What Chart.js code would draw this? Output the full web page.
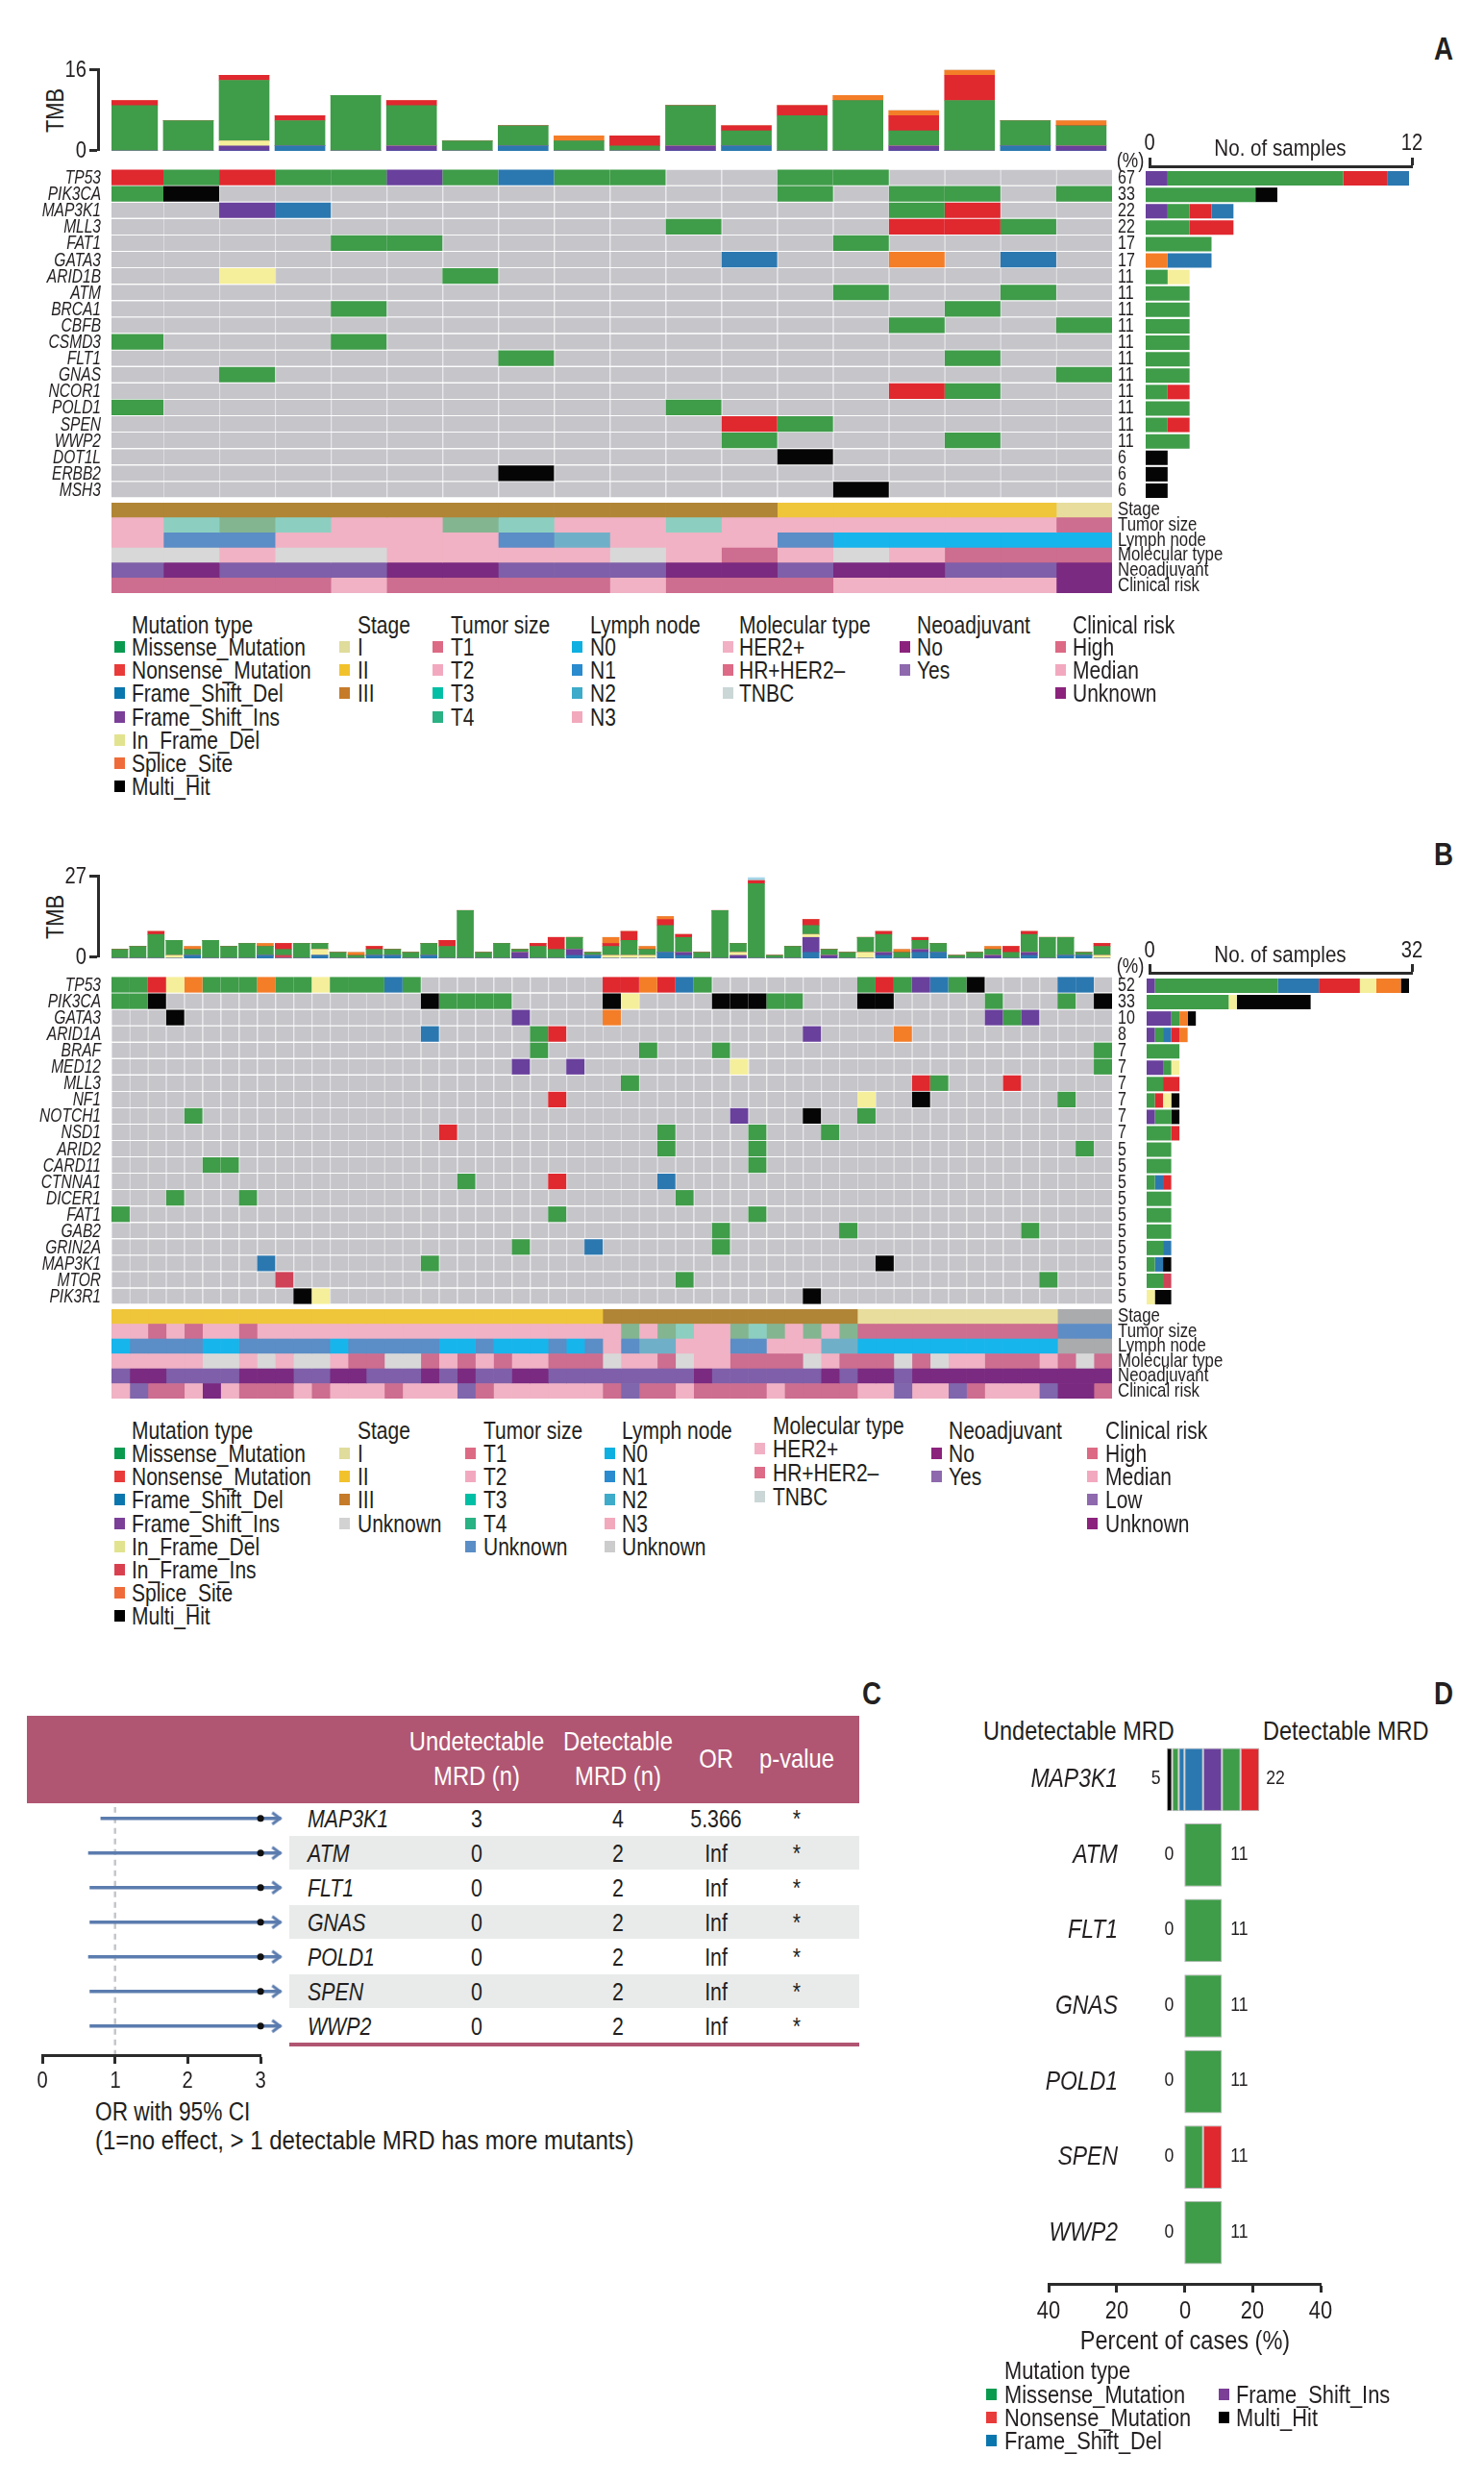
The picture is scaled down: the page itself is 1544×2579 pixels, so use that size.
<!DOCTYPE html>
<html>
<head>
<meta charset="utf-8">
<title>Mutation landscape</title>
<script src="https://cdn.jsdelivr.net/npm/chart.js@4"></script>
<style>
  html, body { margin: 0; background: #fff; }
  #page { position: relative; width: 1544px; height: 2579px; overflow: hidden; background: #fff; }
  #page canvas { position: absolute; }
  .txt { position: absolute; white-space: nowrap; color: #231f20; line-height: 1; }
</style>
</head>
<body>
<div id="page"></div>
<script>
// ─── DATA ────────────────────────────────────────────────

// panel A: matrix cells are "column + code", codes are in mutColors below
const genesA = ['TP53', 'PIK3CA', 'MAP3K1', 'MLL3', 'FAT1', 'GATA3', 'ARID1B', 'ATM', 'BRCA1', 'CBFB',
  'CSMD3', 'FLT1', 'GNAS', 'NCOR1', 'POLD1', 'SPEN', 'WWP2', 'DOT1L', 'ERBB2', 'MSH3'];
const pctA = ['67', '33', '22', '22', '17', '17', '11', '11', '11', '11', '11', '11', '11', '11', '11', '11', '11', '6', '6', '6'];
const cellsA = [
  '0N 1M 2N 3M 4M 5I 6M 7D 8M 9M 12M 13M',
  '0M 1H 12M 14M 15M 17M',
  '2I 3D 14M 15N',
  '10M 14N 15N 16M',
  '4M 5M 13M',
  '11D 14S 16D',
  '2E 6M',
  '13M 16M',
  '4M 15M',
  '14M 17M',
  '0M 4M',
  '7M 15M',
  '2M 17M',
  '14N 15M',
  '0M 10M',
  '11N 12M',
  '11M 15M',
  '12H',
  '7H',
  '13H'
];
const tmbA = ['M9 N1', 'M6', 'I1 E1 M12 N1', 'D1 M5 N1', 'M11', 'I1 M8 N1', 'M2', 'D1 M4', 'M2 S1', 'M1 N2',
  'I1 M8', 'D1 M3 N1', 'M7 N2', 'M10 S1', 'I1 M3 N3 S1', 'M10 N5 S1', 'D1 M5', 'I1 M4 S1'];
const sideOrderA = ['S', 'I', 'M', 'N', 'D', 'E', 'H'];

const stageA = '3:12 2:5 1:1';
const tumorA = '2:1 3:1 4:1 3:1 2:2 4:1 3:1 2:2 3:1 2:6 1:1';
const lymphA = '3:1 1:2 3:4 1:1 2:1 3:3 1:1 0:5';
const molA = 'T:2 H:1 T:2 H:4 T:1 H:1 R:1 H:1 T:1 H:1 R:3';
const neoA = 'Y:1 N:1 Y:3 N:2 Y:3 N:2 Y:1 N:2 Y:2 N:1';
const riskA = 'H:4 M:1 H:4 M:1 H:3 M:4 U:1';

// panel B
const genesB = ['TP53', 'PIK3CA', 'GATA3', 'ARID1A', 'BRAF', 'MED12', 'MLL3', 'NF1', 'NOTCH1', 'NSD1',
  'ARID2', 'CARD11', 'CTNNA1', 'DICER1', 'FAT1', 'GAB2', 'GRIN2A', 'MAP3K1', 'MTOR', 'PIK3R1'];
const pctB = ['52', '33', '10', '8', '7', '7', '7', '7', '7', '7', '5', '5', '5', '5', '5', '5', '5', '5', '5', '5'];
const cellsB = [
  '0M 1M 2N 3E 4S 5M 6M 7M 8S 9M 10M 11E 12M 13M 14M 15D 16M 27N 28N 29S 30N 31D 32M 41M 42N 43M 44I 45D 46M 47H 52D 53D',
  '0M 1M 2H 17H 18M 19M 20M 21M 27H 28E 33H 34H 35H 36M 37M 41H 42H 48M 52M 54H',
  '3H 22I 27S 48I 49M 50I',
  '17D 23M 24N 38I 43S',
  '23M 29M 33M 54M',
  '22I 25I 34E 54M',
  '28M 44N 45M 49N',
  '24N 41E 44H 52M',
  '4M 34I 38H 41M',
  '18N 30M 35M 39M',
  '30M 35M 53M',
  '5M 6M 35M',
  '19M 24N 30D',
  '3M 7M 31M',
  '0M 24M 35M',
  '33M 40M 50M',
  '22M 26D 33M',
  '8D 17M 42H',
  '9F 31M 51M',
  '10H 11E 38H'
];
const tmbB = ['M3', 'M4', 'M8 N1', 'E1 M5', 'D1 M2 S1', 'M6', 'M4', 'M5', 'D1 M3 S1', 'F1 M2 N2',
  'M5', 'D1 E2 M2', 'M2', 'M1 S1', 'D1 M2 N1', 'D1 M2', 'M2', 'D1 M4', 'M4 N2', 'M16',
  'M2', 'M5', 'I2 M1', 'M4 N1', 'M3 N4', 'D1 I2 M4', 'D1 M1', 'E1 M3 N1 S2', 'E1 M5 N3', 'E1 M2 S1',
  'D2 M9 N2 S1', 'D1 I1 M5 N1', 'M2', 'M16', 'I1 E1 M3', 'M25 N1 O1', 'M1', 'M4', 'D2 I5 E1 M3 N2', 'I1 M2',
  'M2', 'E2 M5', 'D1 I1 M6 N1', 'M2 S1', 'D2 I1 M3 N1', 'D2 M3', 'M1', 'M2', 'I1 M2 S1', 'M2 N2',
  'D1 I1 M6 N1', 'M7', 'D1 M6', 'D1 M1', 'E1 M3 N1'];
const sideOrderB = ['I', 'M', 'D', 'N', 'E', 'F', 'S', 'H'];

const stageB = '2:27 3:14 1:11 U:3';
const tumorB = '2:2 1:1 2:1 1:1 2:2 1:1 2:20 4:1 2:1 4:1 3:1 2:2 4:1 3:1 4:1 2:1 4:1 2:1 4:1 1:11 U:3';
const lymphB = '0:1 1:4 0:2 1:5 0:1 1:5 0:2 1:1 0:3 1:1 0:1 1:1 3:1 1:1 2:2 3:3 1:2 3:3 2:2 0:11 U:3';
const molB = 'H:5 T:2 H:1 T:1 H:1 T:2 H:1 R:2 T:2 R:1 H:1 R:1 H:1 R:1 H:2 R:3 T:1 H:2 R:1 T:1 H:2 R:4 T:1 H:1 R:3 T:1 R:1 T:1 H:2 R:3 H:1 R:1 T:1 R:1';
const neoB = 'Y:1 N:2 Y:4 N:3 Y:2 N:2 Y:3 N:1 Y:1 N:1 Y:2 N:2 Y:8 N:1 Y:6 N:1 Y:1 N:2 Y:1 N:11';
const riskB = 'M:1 L:1 H:2 M:1 U:1 M:1 H:3 M:1 H:1 M:3 H:1 M:3 L:1 H:1 M:6 H:1 L:1 H:2 M:1 H:4 M:1 H:4 M:2 L:1 M:2 L:1 H:1 M:3 L:1 U:2 H:1';

const trackNames = ['Stage', 'Tumor size', 'Lymph node', 'Molecular type', 'Neoadjuvant', 'Clinical risk'];

// panel C
const orGenes = ['MAP3K1', 'ATM', 'FLT1', 'GNAS', 'POLD1', 'SPEN', 'WWP2'];
const orLow = [0.8, 0.63, 0.65, 0.65, 0.63, 0.65, 0.65];
const orHigh = [3.28, 3.28, 3.28, 3.28, 3.28, 3.28, 3.28];
const orDot = [3, 3, 3, 3, 3, 3, 3];
const undetN = ['3', '0', '0', '0', '0', '0', '0'];
const detN = ['4', '2', '2', '2', '2', '2', '2'];
const orText = ['5.366', 'Inf', 'Inf', 'Inf', 'Inf', 'Inf', 'Inf'];
const pText = ['*', '*', '*', '*', '*', '*', '*'];

// panel D, percent of cases per mutation type
const undetPct = [5, 0, 0, 0, 0, 0, 0];
const detPct = [22, 11, 11, 11, 11, 11, 11];
const leftDel = [-1.7, 0, 0, 0, 0, 0, 0];
const leftMis = [-1.9, 0, 0, 0, 0, 0, 0];
const leftMulti = [-1.6, 0, 0, 0, 0, 0, 0];
const rightDel = [5.5, 0, 0, 0, 0, 0, 0];
const rightIns = [5.5, 0, 0, 0, 0, 0, 0];
const rightMis = [5.5, 11, 11, 11, 11, 5.5, 11];
const rightNon = [5.5, 0, 0, 0, 0, 5.5, 0];

// ─── COLOURS ─────────────────────────────────────────────

const noMut = '#c5c5ca';
const mutColors = {
  M: '#3f9c49', N: '#e0282f', D: '#2b78b0', I: '#69409c', E: '#f5ef9b',
  F: '#cf4257', S: '#f47d28', H: '#050505', O: '#a5d5e8', '.': noMut
};
const stageColors = { 1: '#e8dd9c', 2: '#efc53a', 3: '#b08536', U: '#aaabad' };
const tumorColors = { 1: '#cd6d8f', 2: '#f0b2c4', 3: '#8ccfc1', 4: '#84b591', U: '#5e8dc6' };
const lymphColors = { 0: '#16b5ec', 1: '#5b8dc6', 2: '#6fb0c8', 3: '#f0b2c4', U: '#aaabad' };
const molColors = { H: '#f0b2c4', R: '#cd6d8f', T: '#d8d8d8' };
const neoColors = { N: '#7a2a80', Y: '#7f5fa9' };
const riskColors = { H: '#cd6d8f', M: '#f0b2c4', L: '#7f66ad', U: '#7a2a80' };
const trackColors = [stageColors, tumorColors, lymphColors, molColors, neoColors, riskColors];

const rose = '#b05672';
const ink = '#231f20';
const axisInk = '#2b2b2b';
const arrowBlue = '#5b7cae';

// no narrow face is installed, so text is squeezed horizontally to the same proportions
const FONT = "'Liberation Sans',Arial,sans-serif";
const SQUEEZE = 0.84;

// ─── HELPERS ─────────────────────────────────────────────

const page = document.getElementById('page');

function addCanvas(left, top, width, height) {
  const c = document.createElement('canvas');
  c.width = width;
  c.height = height;
  c.style.left = left + 'px';
  c.style.top = top + 'px';
  page.appendChild(c);
  return c;
}

function txt(text, x, y, o = {}) {
  const d = document.createElement('div');
  d.className = 'txt';
  d.textContent = text;
  d.style.left = x + 'px';
  d.style.top = y + 'px';
  d.style.fontFamily = FONT;
  d.style.fontSize = (o.size || 26) + 'px';
  if (o.italic) d.style.fontStyle = 'italic';
  if (o.bold) d.style.fontWeight = 'bold';
  if (o.color) d.style.color = o.color;
  const ax = o.align === 'center' ? '-50%' : o.align === 'right' ? '-100%' : '0';
  const ox = o.align === 'center' ? '50%' : o.align === 'right' ? '100%' : '0';
  d.style.transformOrigin = `${ox} 50%`;
  d.style.transform = `translate(${ax},-50%)` + (o.rotate ? ` rotate(${o.rotate}deg)` : '') + ` scaleX(${o.k || SQUEEZE})`;
  page.appendChild(d);
}

function box(x, y, w, h, color) {
  const d = document.createElement('div');
  d.style.cssText = `position:absolute;left:${x}px;top:${y}px;width:${w}px;height:${h}px;background:${color}`;
  page.appendChild(d);
}

function baseOptions() {
  return {
    responsive: false,
    maintainAspectRatio: false,
    animation: false,
    events: [],
    layout: { padding: 0, autoPadding: false },
    plugins: { legend: { display: false }, tooltip: { enabled: false } }
  };
}

function noPad(s) {
  s.paddingLeft = s.paddingRight = s.paddingTop = s.paddingBottom = 0;
}

function parseCells(sparse, n) {
  const row = Array(n).fill('.');
  sparse.split(' ').forEach(t => {
    const m = t.match(/^(\d+)(\w)$/);
    row[+m[1]] = m[2];
  });
  return row;
}

function expandRuns(runs) {
  return runs.split(' ').flatMap(t => {
    const [code, n] = t.split(':');
    return Array(+n).fill(code);
  });
}

// category labels go on as html text, at the pixel the scale gives for each tick
function rowLabels(chart, scaleId, x, o) {
  const s = chart.scales[scaleId];
  const top = parseFloat(chart.canvas.style.top) + (o.dy || 0);
  s.getLabels().forEach((label, i) => txt(label, x, top + s.getPixelForTick(i), o));
}

// ─── CHARTS ──────────────────────────────────────────────

// heat grid as stacked horizontal bars, one dataset per sample column
function drawGrid(cfg) {
  const left = 116, right = 1157, rightW = cfg.rightW;
  const canvas = addCanvas(0, cfg.top, right + rightW, cfg.height);
  const n = cfg.colors[0].length;
  const datasets = [];
  for (let c = 0; c < n; c++) {
    datasets.push({
      data: cfg.rows.map(() => 1),
      backgroundColor: cfg.colors.map(r => r[c]),
      borderColor: '#dcdce0',
      borderWidth: ctx => (cfg.cellLines && cfg.colors[ctx.dataIndex][c] === noMut ? { left: 1, right: 0, top: 0, bottom: 0 } : 0),
      borderSkipped: false,
      barPercentage: cfg.barPct,
      categoryPercentage: 1
    });
  }
  const chart = new Chart(canvas, {
    type: 'bar',
    data: { labels: cfg.rows, datasets },
    options: {
      ...baseOptions(),
      indexAxis: 'y',
      scales: {
        x: { display: false, stacked: true, min: cfg.xMin, max: n, offset: false },
        y: {
          type: 'category', position: 'left', stacked: true,
          grid: { display: false }, border: { display: false },
          ticks: { display: false, autoSkip: false },
          afterFit: s => { s.width = left; noPad(s); }
        },
        yRight: {
          type: 'category', position: 'right', labels: cfg.rightLabels, display: true,
          grid: { display: false }, border: { display: false },
          ticks: { display: false, autoSkip: false },
          afterFit: s => { s.width = rightW; noPad(s); }
        }
      }
    }
  });
  if (cfg.leftLabels) rowLabels(chart, 'y', 105, { size: 21, k: 0.74, italic: true, align: 'right', dy: -1.5 });
  rowLabels(chart, 'yRight', 1163, { size: cfg.rightSize, dy: cfg.rightDy, k: 0.8 });
}

function drawTmb(cfg) {
  const canvas = addCanvas(116, cfg.top, 1041, cfg.height);
  const parsed = cfg.cols.map(s => Object.fromEntries(s.split(' ').map(t => [t[0], +t.slice(1)])));
  const datasets = ['D', 'I', 'E', 'F', 'M', 'N', 'S', 'O'].map(code => ({
    data: parsed.map((p, i) => ({ x: i + 0.447, y: p[code] || 0 })),
    backgroundColor: mutColors[code],
    barThickness: cfg.barW
  }));
  new Chart(canvas, {
    type: 'bar',
    data: { datasets },
    options: {
      ...baseOptions(),
      scales: {
        x: { type: 'linear', display: false, stacked: true, min: cfg.xMin, max: cfg.cols.length, offset: false },
        y: { display: false, stacked: true, min: 0, max: cfg.yMax }
      }
    }
  });
}

function drawSide(cfg) {
  const canvas = addCanvas(cfg.left, cfg.top, cfg.width, cfg.height);
  const rows = cfg.cells.map(s => s.split(' ').map(t => t.slice(-1)));
  const datasets = cfg.order.map(code => ({
    data: rows.map(r => r.filter(c => c === code).length),
    backgroundColor: mutColors[code],
    barPercentage: 0.88,
    categoryPercentage: 1
  }));
  new Chart(canvas, {
    type: 'bar',
    data: { labels: cfg.genes, datasets },
    options: {
      ...baseOptions(),
      indexAxis: 'y',
      scales: {
        x: { display: false, stacked: true, min: 0, max: cfg.max, offset: false },
        y: { display: false, stacked: true }
      }
    }
  });
}

// axis only chart, so brackets can sit apart from the marks they measure
function drawAxis(cfg) {
  const pad = 40, horiz = cfg.dir !== 'left';
  const axisOpts = {
    type: 'linear', display: true, min: cfg.min, max: cfg.max, position: cfg.dir, offset: false,
    border: { display: true, width: 3, color: axisInk },
    grid: { display: true, drawOnChartArea: false, drawTicks: true, tickLength: cfg.tick, tickWidth: 3, tickColor: axisInk },
    ticks: { display: false, autoSkip: false },
    afterBuildTicks: s => { s.ticks = cfg.ticks.map(v => ({ value: v })); }
  };
  const hidden = { type: 'linear', display: false };
  let canvas, scales, layout, left, top;
  if (horiz) {
    left = cfg.from - pad;
    top = cfg.dir === 'top' ? cfg.at - cfg.h + 3 : cfg.at - 3;
    canvas = addCanvas(left, top, cfg.to - cfg.from + 2 * pad, cfg.h);
    layout = { padding: { left: pad, right: pad }, autoPadding: false };
    axisOpts.afterFit = s => { s.height = cfg.h - 3; noPad(s); };
    scales = { x: axisOpts, y: hidden };
  } else {
    left = cfg.at - cfg.h + 3;
    top = cfg.from - pad;
    canvas = addCanvas(left, top, cfg.h, cfg.to - cfg.from + 2 * pad);
    layout = { padding: { top: pad, bottom: pad }, autoPadding: false };
    axisOpts.afterFit = s => { s.width = cfg.h - 3; noPad(s); };
    scales = { y: axisOpts, x: hidden };
  }
  const chart = new Chart(canvas, {
    type: 'scatter',
    data: { datasets: [] },
    options: { ...baseOptions(), layout, scales }
  });
  const s = horiz ? chart.scales.x : chart.scales.y;
  s.ticks.forEach((t, i) => {
    const label = String(Math.abs(t.value));
    const px = s.getPixelForTick(i);
    if (horiz) txt(label, left + px, cfg.labelAt, { size: cfg.size, align: 'center' });
    else txt(label, cfg.labelAt, top + px, { size: cfg.size, align: 'right' });
  });
}

function arrowHead() {
  const c = document.createElement('canvas');
  c.width = 26;
  c.height = 16;
  const g = c.getContext('2d');
  g.strokeStyle = arrowBlue;
  g.lineWidth = 3;
  g.beginPath();
  g.moveTo(4, 2);
  g.lineTo(12, 8);
  g.lineTo(4, 14);
  g.stroke();
  return c;
}

function drawForest() {
  const canvas = addCanvas(44, 1880, 258, 258);
  const head = arrowHead();
  const lines = orGenes.map((g, i) => ({
    type: 'line',
    data: [{ x: orLow[i], y: i }, { x: orHigh[i], y: i }],
    borderColor: arrowBlue,
    borderWidth: 3.5,
    pointStyle: ['circle', head],
    pointRadius: [0, 8],
    tension: 0
  }));
  const dots = {
    type: 'scatter',
    data: orDot.map((v, i) => ({ x: v, y: i })),
    backgroundColor: '#111',
    pointRadius: 3.5
  };
  const refLine = {
    type: 'line',
    data: [{ x: 1, y: -0.33 }, { x: 1, y: 6.84 }],
    borderColor: '#c3c6cc',
    borderWidth: 2.5,
    borderDash: [6, 5],
    pointRadius: 0
  };
  new Chart(canvas, {
    type: 'scatter',
    data: { datasets: [dots, ...lines, refLine] },
    options: {
      ...baseOptions(),
      scales: {
        x: { type: 'linear', display: false, min: 0, max: 3.408, offset: false },
        y: { type: 'linear', display: false, min: -0.325, max: 6.84, reverse: true, offset: false }
      }
    }
  });
}

const countLabels = {
  id: 'countLabels',
  afterDatasetsDraw(chart) {
    const { ctx, scales: { x, y } } = chart;
    ctx.font = '21px ' + FONT;
    ctx.fillStyle = ink;
    ctx.textBaseline = 'middle';
    orGenes.forEach((g, i) => {
      const py = y.getPixelForValue(i) - 1;
      ctx.save();
      ctx.translate(x.getPixelForValue(-undetPct[i]) - (undetPct[i] ? 7 : 11), py);
      ctx.scale(SQUEEZE, 1);
      ctx.textAlign = 'right';
      ctx.fillText(String(undetPct[i]), 0, 0);
      ctx.restore();
      ctx.save();
      ctx.translate(x.getPixelForValue(detPct[i]) + (detPct[i] > 11 ? 7 : 9), py);
      ctx.scale(SQUEEZE, 1);
      ctx.textAlign = 'left';
      ctx.fillText(String(detPct[i]), 0, 0);
      ctx.restore();
    });
  }
};

function drawMrdBars() {
  const canvas = addCanvas(1000, 1812, 374, 550);
  const edge = { borderColor: '#b3b3b3', borderWidth: 1, borderSkipped: false, barPercentage: 0.836, categoryPercentage: 1 };
  const series = [
    [leftDel, mutColors.D], [leftMis, mutColors.M], [leftMulti, mutColors.H],
    [rightDel, mutColors.D], [rightIns, mutColors.I], [rightMis, mutColors.M], [rightNon, mutColors.N]
  ];
  const chart = new Chart(canvas, {
    type: 'bar',
    data: {
      labels: orGenes,
      datasets: series.map(([data, color]) => ({ data, backgroundColor: color, ...edge }))
    },
    options: {
      ...baseOptions(),
      indexAxis: 'y',
      scales: {
        x: { type: 'linear', display: false, stacked: true, min: -19, max: 40, offset: false },
        y: {
          stacked: true,
          grid: { display: false }, border: { display: false },
          ticks: { display: false, autoSkip: false },
          afterFit: s => { s.width = 165; noPad(s); }
        }
      }
    },
    plugins: [countLabels]
  });
  rowLabels(chart, 'y', 1163, { size: 28, k: 0.82, italic: true, align: 'right', dy: -1 });
}

// ─── LEGENDS AND TABLE ───────────────────────────────────

const legMut = [['Missense_Mutation', '#0a9a4f'], ['Nonsense_Mutation', '#e93b39'], ['Frame_Shift_Del', '#0a76ae'],
  ['Frame_Shift_Ins', '#7b3f98'], ['In_Frame_Del', '#e2e38f'], ['In_Frame_Ins', '#d9404f'], ['Splice_Site', '#ef6c3a'], ['Multi_Hit', '#000000']];
const legStage = [['I', '#dfdc9c'], ['II', '#f2c22d'], ['III', '#c67b2a'], ['Unknown', '#d2d2d2']];
const legTumor = [['T1', '#dc6a85'], ['T2', '#f2a9c0'], ['T3', '#00bfa5'], ['T4', '#2ab184'], ['Unknown', '#5b8ec6']];
const legLymph = [['N0', '#0db0e0'], ['N1', '#2a8bce'], ['N2', '#3dabc9'], ['N3', '#f2a9bc'], ['Unknown', '#cccccc']];
const legMol = [['HER2+', '#f2b0c4'], ['HR+HER2–', '#dd6a86'], ['TNBC', '#cbd7d7']];
const legNeo = [['No', '#8b237d'], ['Yes', '#8e69ad']];
const legRisk = [['High', '#dc6a85'], ['Median', '#f2a9c0'], ['Low', '#8e69ad'], ['Unknown', '#8b237d']];

function legend(title, items, swatchX, textX, titleY, firstY, step) {
  txt(title, textX, titleY, { size: 25 });
  items.forEach(([name, color], i) => {
    const y = firstY + i * step;
    box(swatchX, y - 6, 11, 12, color);
    txt(name, textX, y, { size: 25 });
  });
}

function drawPanelLetters() {
  [['A', 1502, 50], ['B', 1502, 888], ['C', 907, 1761], ['D', 1502, 1761]].forEach(([t, x, y]) => {
    txt(t, x, y, { size: 33, bold: true, align: 'center' });
  });
}

function drawTable() {
  box(28, 1785, 866, 91, rose);
  const head = { size: 28, align: 'center', color: '#ffffff', k: 0.85 };
  txt('Undetectable', 496, 1812, head);
  txt('MRD (n)', 496, 1848, head);
  txt('Detectable', 643, 1812, head);
  txt('MRD (n)', 643, 1848, head);
  txt('OR', 745, 1830, head);
  txt('p-value', 829, 1830, head);
  [1, 3, 5].forEach(i => box(301, 1910 + (i - 1) * 36, 593, 35, '#e9ebeb'));
  box(301, 2125, 593, 4, rose);
  orGenes.forEach((g, i) => {
    const y = 1892 + i * 36;
    txt(g, 320, y, { size: 26, italic: true, k: 0.82 });
    txt(undetN[i], 496, y, { size: 26, align: 'center', k: 0.82 });
    txt(detN[i], 643, y, { size: 26, align: 'center', k: 0.82 });
    txt(orText[i], 745, y, { size: 26, align: 'center', k: 0.82 });
    txt(pText[i], 829, y, { size: 26, align: 'center', k: 0.82 });
  });
  txt('OR with 95% CI', 99, 2197, { size: 27 });
  txt('(1=no effect, > 1 detectable MRD has more mutants)', 99, 2227, { size: 27, k: 0.89 });
}

// ─── PAGE ────────────────────────────────────────────────

function drawPanelA() {
  const n = tmbA.length;
  txt('TMB', 57, 115, { size: 26, align: 'center', rotate: -90 });
  drawAxis({ dir: 'left', at: 102, from: 72, to: 156, min: 0, max: 16, ticks: [0, 16], tick: 9, size: 24, h: 20, labelAt: 90 });
  drawTmb({ top: 72, height: 85, cols: tmbA, xMin: 0.07, barW: 52, yMax: 16.19 });
  drawGrid({
    top: 176, height: 342, rows: genesA, leftLabels: true, rightLabels: pctA, rightW: 35, rightSize: 20, rightDy: -0.5,
    colors: cellsA.map(s => parseCells(s, n).map(c => mutColors[c])),
    xMin: 0.07, barPct: 0.95, cellLines: true
  });
  drawSide({ left: 1192, top: 177, width: 274, height: 342, cells: cellsA, genes: genesA, order: sideOrderA, max: 12 });
  drawAxis({ dir: 'top', at: 173, from: 1196, to: 1469, min: 0, max: 12, ticks: [0, 12], tick: 9, size: 24, h: 20, labelAt: 148 });
  txt('No. of samples', 1332, 154, { size: 24.5, align: 'center' });
  txt('(%)', 1176, 167, { size: 22, align: 'center' });
  const tracks = [stageA, tumorA, lymphA, molA, neoA, riskA];
  drawGrid({
    top: 523, height: 94, rows: trackNames, leftLabels: false, rightLabels: trackNames, rightW: 200, rightSize: 21, rightDy: -2.5,
    colors: tracks.map((t, i) => expandRuns(t).map(c => trackColors[i][c])),
    xMin: 0.07, barPct: 1, cellLines: false
  });
  const tY = 650, y0 = 673, st = 24.2;
  legend('Mutation type', legMut.filter(m => m[0] !== 'In_Frame_Ins'), 119, 137, tY, y0, st);
  legend('Stage', legStage.slice(0, 3), 353, 372, tY, y0, st);
  legend('Tumor size', legTumor.slice(0, 4), 450, 469, tY, y0, st);
  legend('Lymph node', legLymph.slice(0, 4), 595, 614, tY, y0, st);
  legend('Molecular type', legMol, 752, 769, tY, y0, st);
  legend('Neoadjuvant', legNeo, 936, 954, tY, y0, st);
  legend('Clinical risk', legRisk.filter(r => r[0] !== 'Low'), 1098, 1116, tY, y0, st);
}

function drawPanelB() {
  const n = tmbB.length;
  txt('TMB', 57, 954, { size: 26, align: 'center', rotate: -90 });
  drawAxis({ dir: 'left', at: 102, from: 911, to: 995, min: 0, max: 27, ticks: [0, 27], tick: 9, size: 24, h: 20, labelAt: 90 });
  drawTmb({ top: 909, height: 88, cols: tmbB, xMin: 0, barW: 17, yMax: 28.3 });
  drawGrid({
    top: 1016, height: 341, rows: genesB, leftLabels: true, rightLabels: pctB, rightW: 35, rightSize: 20, rightDy: -0.5,
    colors: cellsB.map(s => parseCells(s, n).map(c => mutColors[c])),
    xMin: 0, barPct: 0.95, cellLines: true
  });
  drawSide({ left: 1193, top: 1017, width: 273, height: 341, cells: cellsB, genes: genesB, order: sideOrderB, max: 32 });
  drawAxis({ dir: 'top', at: 1012, from: 1196, to: 1469, min: 0, max: 32, ticks: [0, 32], tick: 9, size: 24, h: 20, labelAt: 988 });
  txt('No. of samples', 1332, 993, { size: 24.5, align: 'center' });
  txt('(%)', 1176, 1005, { size: 22, align: 'center' });
  const tracks = [stageB, tumorB, lymphB, molB, neoB, riskB];
  drawGrid({
    top: 1362, height: 93, rows: trackNames, leftLabels: false, rightLabels: trackNames, rightW: 200, rightSize: 21, rightDy: -2.5,
    colors: tracks.map((t, i) => expandRuns(t).map(c => trackColors[i][c])),
    xMin: 0, barPct: 1, cellLines: false
  });
  const tY = 1488, y0 = 1512, st = 24.2;
  legend('Mutation type', legMut, 119, 137, tY, y0, st);
  legend('Stage', legStage, 353, 372, tY, y0, st);
  legend('Tumor size', legTumor, 484, 503, tY, y0, st);
  legend('Lymph node', legLymph, 629, 647, tY, y0, st);
  legend('Molecular type', legMol, 785, 804, 1483, 1507, 25);
  legend('Neoadjuvant', legNeo, 969, 987, tY, y0, st);
  legend('Clinical risk', legRisk, 1131, 1150, tY, y0, st);
}

function drawPanelCD() {
  drawTable();
  drawForest();
  drawAxis({ dir: 'bottom', at: 2138, from: 44, to: 271, min: 0, max: 3, ticks: [0, 1, 2, 3], tick: 9, size: 24, h: 20, labelAt: 2164 });

  txt('Undetectable MRD', 1023, 1801, { size: 28 });
  txt('Detectable MRD', 1314, 1801, { size: 28 });
  drawMrdBars();
  drawAxis({ dir: 'bottom', at: 2376, from: 1091, to: 1374, min: -40, max: 40, ticks: [-40, -20, 0, 20, 40], tick: 9, size: 26, h: 20, labelAt: 2403 });
  txt('Percent of cases (%)', 1233, 2435, { size: 28, align: 'center' });
  txt('Mutation type', 1045, 2466, { size: 26 });
  [[legMut[0], 1026, 1045, 2491], [legMut[1], 1026, 1045, 2515], [legMut[2], 1026, 1045, 2539],
   [legMut[3], 1268, 1286, 2491], [legMut[7], 1268, 1286, 2515]].forEach(([item, sx, tx, y]) => {
    box(sx, y - 6, 11, 12, item[1]);
    txt(item[0], tx, y, { size: 26 });
  });
}

document.addEventListener('DOMContentLoaded', () => {
  drawPanelLetters();
  drawPanelA();
  drawPanelB();
  drawPanelCD();
});
</script>
</body>
</html>
